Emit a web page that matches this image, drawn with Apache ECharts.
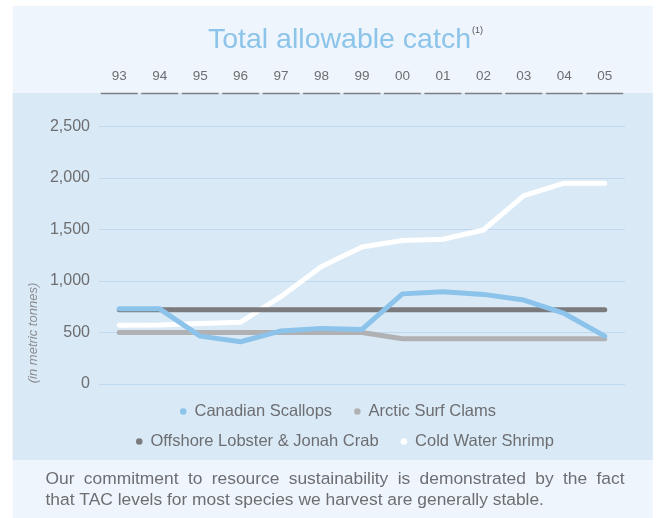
<!DOCTYPE html>
<html>
<head>
<meta charset="utf-8">
<script src="https://cdn.jsdelivr.net/npm/echarts@6/dist/echarts.min.js"></script>
<style>html,body{margin:0;padding:0;background:#fff;}#c{width:656px;height:518px;}</style>
</head>
<body>
<div id="c"></div>
<script>
// ---- data ----
var years = ['93','94','95','96','97','98','99','00','01','02','03','04','05'];
var seriesNames = ['Canadian Scallops','Arctic Surf Clams','Offshore Lobster & Jonah Crab','Cold Water Shrimp'];
var scallops = [730, 730, 465, 410, 515, 540, 530, 875, 895, 870, 815, 685, 465];
var clams    = [500, 500, 500, 500, 500, 500, 500, 440, 440, 440, 440, 440, 440];
var lobster  = [720, 720, 720, 720, 720, 720, 720, 720, 720, 720, 720, 720, 720];
var shrimp   = [570, 572, 588, 600, 850, 1140, 1330, 1393, 1405, 1495, 1828, 1950, 1950];
var yTicks = [0, 500, 1000, 1500, 2000, 2500];
var titleText = 'Total allowable catch';
var titleNote = '(1)';
var yAxisTitle = '(in metric tonnes)';
var captionLine1 = 'Our commitment to resource sustainability is demonstrated by the fact';
var captionLine2 = 'that TAC levels for most species we harvest are generally stable.';

// ---- layout ----
var W = 656, H = 518;
var gridLeft = 99, gridRight = 31, gridTop = 126.5, gridBottom = 134;
var catW = (W - gridLeft - gridRight) / years.length;
var segW = catW - 4.5;
var FONT = '"Liberation Sans", Arial, sans-serif';
var TXT = '#6d6e71';

var chart = echarts.init(document.getElementById('c'), null, {renderer: 'canvas'});

// justified caption line 1
function measure(t, size) {
  var c = document.createElement('canvas').getContext('2d');
  c.font = size + 'px "Liberation Sans", Arial, sans-serif';
  return c.measureText(t).width;
}
var capSize = 17.4, capLeft = 45.5, capRight = 624.5;
var words = captionLine1.split(' ');
var wsum = 0; words.forEach(function (w) { wsum += measure(w, capSize); });
var gap = (capRight - capLeft - wsum) / (words.length - 1);
var capEls = [];
var cx = capLeft;
words.forEach(function (w) {
  capEls.push({type: 'text', x: cx, y: 479, silent: true, z: 5,
    style: {text: w, font: capSize + 'px ' + FONT, fill: TXT, verticalAlign: 'middle'}});
  cx += measure(w, capSize) + gap;
});
capEls.push({type: 'text', x: capLeft, y: 500, silent: true, z: 5,
  style: {text: captionLine2, font: capSize + 'px ' + FONT, fill: TXT, verticalAlign: 'middle'}});

var option = {
  animation: false,
  textStyle: {fontFamily: FONT},
  graphic: [
    {type: 'rect', shape: {x: 12.7, y: 6, width: 640, height: 512}, style: {fill: '#eef5fc'}, z: -10, silent: true},
    {type: 'rect', shape: {x: 12.7, y: 93, width: 640, height: 367}, style: {fill: '#d9e9f6'}, z: -9, silent: true},
    {type: 'text', x: 33, y: 333, rotation: Math.PI / 2, silent: true, z: 5,
      style: {text: yAxisTitle, font: 'italic 13px ' + FONT, fill: '#8a8b8e', align: 'center', verticalAlign: 'middle'}}
  ].concat(capEls),
  title: {
    text: '{a|' + titleText + '}{b|' + titleNote + '}',
    left: 203, top: 21,
    textStyle: {
      fontWeight: 'normal',
      rich: {
        a: {fontSize: 28.5, color: '#8cc4ea', fontFamily: FONT, fontWeight: 'normal'},
        b: {fontSize: 9, color: '#555', fontFamily: FONT, fontWeight: 'normal', verticalAlign: 'top', padding: [0, 0, 14, 1]}
      }
    }
  },
  legend: [
    {data: seriesNames.slice(0, 2), left: 175, top: 398, icon: 'circle', itemWidth: 6.5, itemHeight: 6.5, itemGap: 22,
      textStyle: {fontSize: 16.5, color: TXT, fontFamily: FONT, padding: [0, 0, 0, 3]}},
    {data: seriesNames.slice(2, 4), left: 131, top: 428, icon: 'circle', itemWidth: 6.5, itemHeight: 6.5, itemGap: 22,
      textStyle: {fontSize: 16.5, color: TXT, fontFamily: FONT, padding: [0, 0, 0, 3]}}
  ],
  grid: {left: gridLeft, right: gridRight, top: gridTop, bottom: gridBottom, containLabel: false},
  xAxis: [
    {type: 'category', data: years, boundaryGap: true,
      axisLine: {show: false}, axisTick: {show: false}, axisLabel: {show: false}, splitLine: {show: false}},
    {type: 'category', data: years, boundaryGap: true, position: 'top', offset: gridTop - 93,
      axisLine: {show: true, lineStyle: {color: '#7f7f82', width: 1.3, type: [segW, catW - segW], dashOffset: segW + (catW - segW) / 2}},
      axisTick: {show: false},
      axisLabel: {fontSize: 13.5, color: TXT, margin: 10, fontFamily: FONT},
      splitLine: {show: false}}
  ],
  yAxis: {
    type: 'value', min: yTicks[0], max: yTicks[yTicks.length - 1], interval: yTicks[1] - yTicks[0],
    axisLine: {show: false}, axisTick: {show: false},
    axisLabel: {fontSize: 16, color: TXT, margin: 9, fontFamily: FONT,
      formatter: function (v) { return v.toLocaleString('en-US'); }},
    splitLine: {lineStyle: {color: '#c0d9ef', width: 1}}
  },
  series: [
    {name: seriesNames[0], type: 'line', data: scallops, z: 5, symbol: 'none', color: '#8cc3ea',
      lineStyle: {width: 5, cap: 'round', join: 'round'}},
    {name: seriesNames[1], type: 'line', data: clams, z: 4, symbol: 'none', color: '#b1b1b4',
      lineStyle: {width: 5, cap: 'round', join: 'round'}},
    {name: seriesNames[2], type: 'line', data: lobster, z: 3, symbol: 'none', color: '#7b7b7e',
      lineStyle: {width: 5, cap: 'round', join: 'round'}},
    {name: seriesNames[3], type: 'line', data: shrimp, z: 2, symbol: 'none', color: '#ffffff',
      lineStyle: {width: 5, cap: 'round', join: 'round'}}
  ]
};
chart.setOption(option);
</script>
</body>
</html>
